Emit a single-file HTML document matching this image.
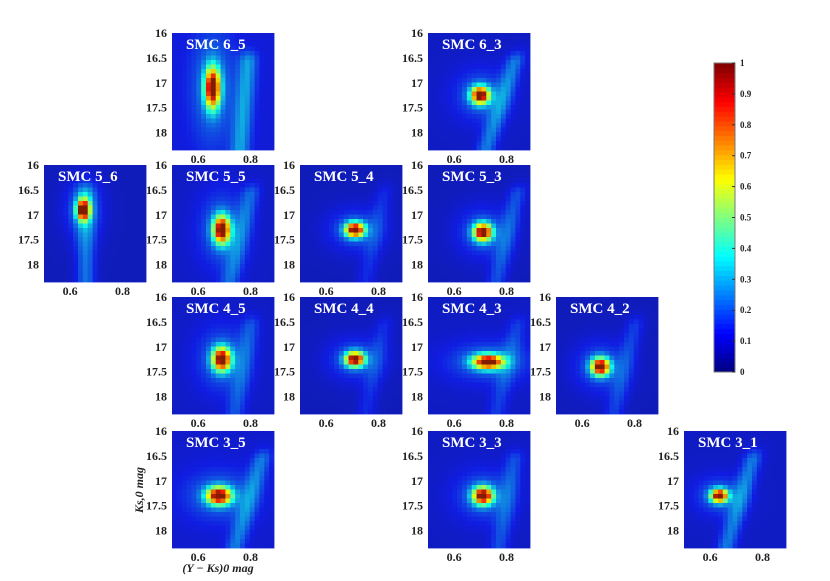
<!DOCTYPE html>
<html><head><meta charset="utf-8">
<style>
html,body{margin:0;padding:0;background:#fff;}
svg{display:block;font-family:"Liberation Serif",serif;}
.tk{font-size:12px;font-weight:bold;fill:#222;}
.ttl{font-size:15px;font-weight:bold;fill:#fff;}
.cb{font-size:9px;font-weight:bold;fill:#222;}
</style></head>
<body>
<svg id="chart" width="830" height="581" viewBox="0 0 830 581">
<g id="panels"></g>
<g id="colorbar"></g>
</svg>
<script>
// ---- data ----
const panelNames = ["SMC 6_5","SMC 6_3","SMC 5_6","SMC 5_5","SMC 5_4","SMC 5_3","SMC 4_5","SMC 4_4","SMC 4_3","SMC 4_2","SMC 3_5","SMC 3_3","SMC 3_1"];
const panelRow = [0,0,1,1,1,1,2,2,2,2,3,3,3];
const panelCol = [1,3,0,1,2,3,1,2,3,4,1,3,5];
const peakColor = [0.655,0.70,0.65,0.69,0.71,0.71,0.69,0.71,0.73,0.67,0.68,0.71,0.635];
const peakMag   = [17.1,17.25,16.9,17.3,17.3,17.35,17.25,17.25,17.3,17.4,17.3,17.3,17.3];
const peakSigC  = [0.02,0.024,0.017,0.022,0.025,0.024,0.024,0.025,0.04,0.024,0.032,0.026,0.022];
const peakSigM  = [0.28,0.12,0.14,0.19,0.1,0.12,0.16,0.1,0.1,0.12,0.12,0.12,0.09];
const streakAmp = [0.16,0.14,0.14,0.11,0.06,0.1,0.09,0.06,0.07,0.08,0.13,0.09,0.14];
const streakTop = [0.79,0.83,0.66,0.8,0.82,0.84,0.8,0.82,0.84,0.8,0.84,0.83,0.76];
const streakBot = [0.76,0.72,0.66,0.72,0.75,0.76,0.74,0.75,0.76,0.72,0.74,0.77,0.66];
const bgLevel   = [0.11,0.09,0.08,0.09,0.08,0.08,0.09,0.08,0.09,0.08,0.1,0.09,0.09];
const yTicks = [16,16.5,17,17.5,18];
const yTickLabels = ["16","16.5","17","17.5","18"];
const xTicks = [0.6,0.8];
const xTickLabels = ["0.6","0.8"];
const cbTicks = [0,0.1,0.2,0.3,0.4,0.5,0.6,0.7,0.8,0.9,1];
const cbTickLabels = ["0","0.1","0.2","0.3","0.4","0.5","0.6","0.7","0.8","0.9","1"];

// ---- layout ----
const colX=[44,172,300,428,556,684], rowY=[33,165,297,431];
const PW=102, PH=117, XMIN=0.5, XMAX=0.89, YMIN=16, YMAX=18.35;
const NS="http://www.w3.org/2000/svg";
function mk(t,a,p){const e=document.createElementNS(NS,t);for(const k in a)e.setAttribute(k,a[k]);p.appendChild(e);return e;}
function jet(v){v=Math.max(0,Math.min(1,v));
 const r=Math.max(0,Math.min(1,1.5-Math.abs(4*v-3))),g=Math.max(0,Math.min(1,1.5-Math.abs(4*v-2))),b=Math.max(0,Math.min(1,1.5-Math.abs(4*v-1)));
 return `rgb(${Math.round(r*255)},${Math.round(g*255)},${Math.round(b*255)})`;}
function cellColor(v){
 v=Math.max(0,Math.min(1,v));
 const r=Math.max(0,Math.min(1,1.5-Math.abs(4*v-3))),g=Math.max(0,Math.min(1,1.5-Math.abs(4*v-2))),b=Math.max(0,Math.min(1,1.5-Math.abs(4*v-1)));
 const m=0.88, a=16;
 return `rgb(${Math.round(r*255*m+a)},${Math.round(g*255*m+a+12)},${Math.round(b*255*m+a-14)})`;}
const G=document.getElementById('panels');
panelNames.forEach((nm,i)=>{
 const x0=colX[panelCol[i]], y0=rowY[panelRow[i]];
 const sx=c=>x0+(c-XMIN)/(XMAX-XMIN)*PW, sy=m=>y0+(m-YMIN)/(YMAX-YMIN)*PH;
 const g=mk('g',{},G);
 
 
 const NC=21, NR=26, cw=PW/NC, ch=PH/NR;
 for(let r=0;r<NR;r++)for(let c=0;c<NC;c++){
  const col=XMIN+(c+0.5)/NC*(XMAX-XMIN), mag=YMIN+(r+0.5)/NR*(YMAX-YMIN);
  const dx=(col-peakColor[i])/peakSigC[i], dy=(mag-peakMag[i])/peakSigM[i];
  const r2=dx*dx+dy*dy;
  const pk=Math.exp(-0.5*r2);
  const br=Math.exp(-0.5*r2/9);
  const t=(mag-16.6)/(18.35-16.6);
  const sc=streakTop[i]+(streakBot[i]-streakTop[i])*t;
  const st=(t>0?1:Math.exp(-t*t*60))*Math.exp(-0.5*((col-sc)/0.025)**2);
  const v=bgLevel[i]+0.92*pk+0.12*br+streakAmp[i]*st;
  const rc=mk('rect',{x:(x0+c*cw).toFixed(2),y:(y0+r*ch).toFixed(2),width:(cw+0.4).toFixed(2),height:(ch+0.4).toFixed(2),fill:cellColor(v)},g);
  
  
 }
 const tt=mk('text',{x:x0+14,y:y0+16,class:'ttl'},g);tt.textContent=nm;
 
 
 yTicks.forEach((m,k)=>{const e=mk('text',{x:x0-5,y:sy(m)+4,class:'tk','text-anchor':'end'},g);e.textContent=yTickLabels[k];
  
  });
 xTicks.forEach((c,k)=>{const e=mk('text',{x:sx(c),y:y0+PH+13,class:'tk','text-anchor':'middle'},g);e.textContent=xTickLabels[k];
  
  });
});
// axis titles on SMC 3_5
const yt=mk('text',{x:0,y:0,class:'tk',transform:'translate(143,490) rotate(-90)','text-anchor':'middle','font-style':'italic','font-weight':'normal'},G);
yt.textContent='Ks,0 mag';


const xt=mk('text',{x:218,y:572,class:'tk','text-anchor':'middle','font-style':'italic','font-weight':'normal'},G);
xt.textContent='(Y − Ks)0 mag';


// colorbar
const CB=document.getElementById('colorbar');
const cbx=714,cby0=63,cby1=372,cbw=21;
const N=64;
for(let k=0;k<N;k++){const v=(k+0.5)/N;
 const rc=mk('rect',{x:cbx,y:(cby1-(k+1)/N*(cby1-cby0)).toFixed(2),width:cbw,height:((cby1-cby0)/N+0.5).toFixed(2),fill:jet(v)},CB);
 
 }
const bd=mk('rect',{x:cbx,y:cby0,width:cbw,height:cby1-cby0,fill:'none',stroke:'#777','stroke-width':1},CB);


cbTicks.forEach((v,k)=>{const y=cby1-v*(cby1-cby0);
 mk('line',{x1:cbx+cbw-3,x2:cbx+cbw,y1:y,y2:y,stroke:'#333'},CB);
 const e=mk('text',{x:cbx+cbw+5,y:y+3,class:'cb'},CB);e.textContent=cbTickLabels[k];
 
 });
</script>
</body></html>
